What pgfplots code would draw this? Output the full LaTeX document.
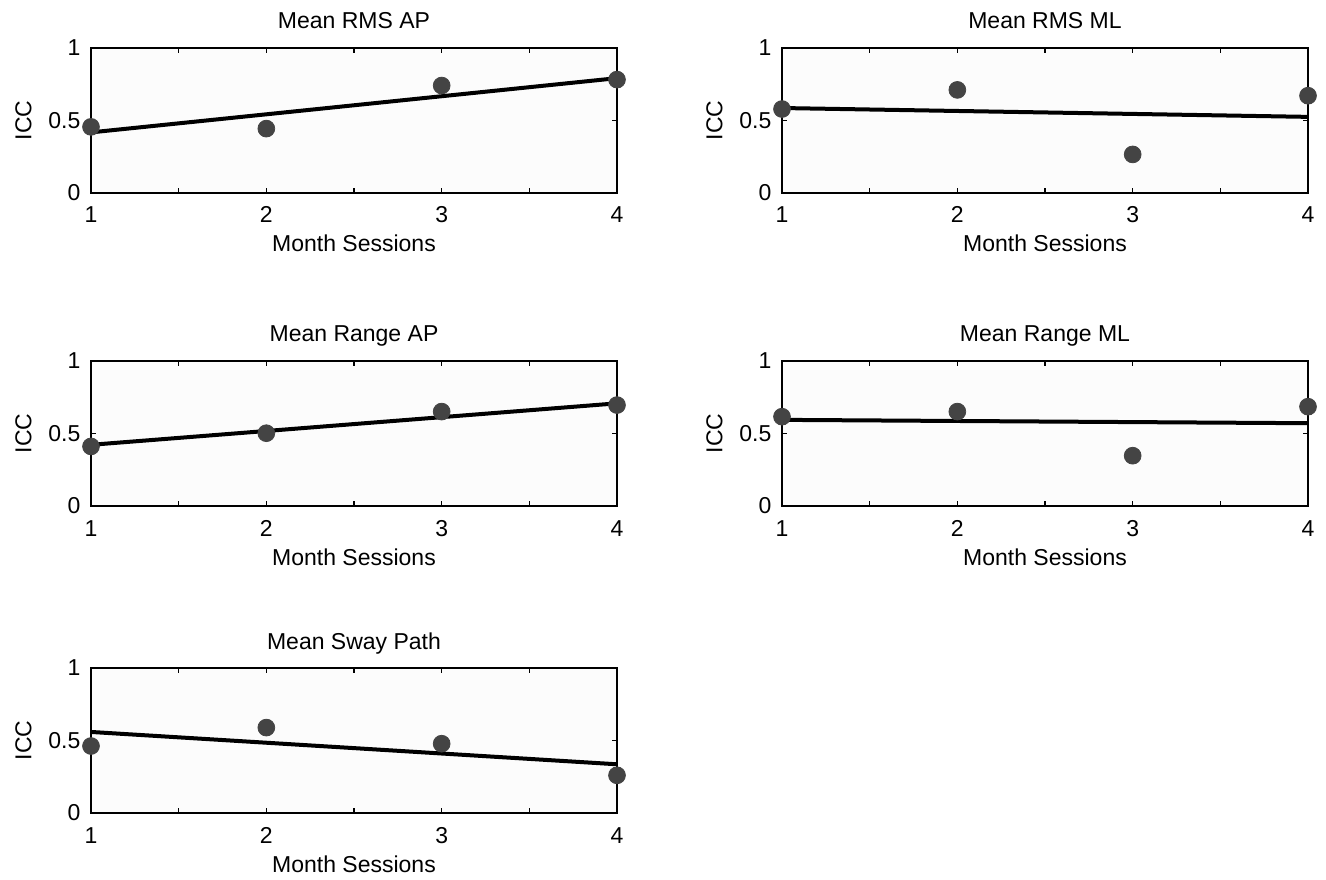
\documentclass[border=0pt]{standalone}
\usepackage{pgfplots}
\pgfplotsset{compat=1.18}
\usepackage{fontspec}
\setmainfont{Liberation Sans}
\definecolor{markgray}{RGB}{68,68,68}
\definecolor{bggray}{RGB}{252,252,252}

\pgfplotsset{
  iccaxis/.style={
    width=263pt, height=72.5pt, scale only axis,
    xmin=1, xmax=4, ymin=0, ymax=1,
    xtick={1,2,3,4}, minor xtick={1.5,2.5,3.5},
    ytick={0,0.5,1}, yticklabels={0,0.5,1},
    major tick length=2.5pt, minor tick length=2.5pt,
    tick align=inside,
    axis line style={line width=0.75pt},
    every tick/.style={black, line width=0.75pt},
    every minor tick/.style={black, line width=0.75pt},
    axis background/.style={fill=bggray},
    /pgf/number format/assume math mode=true,
    tick label style={font=\fontsize{11.5}{13}\selectfont},
    xticklabel style={anchor=base, yshift=-15pt},
    yticklabel style={anchor=east, xshift=-1.8pt},
    label style={font=\fontsize{11.5}{13}\selectfont},
    xlabel={Month Sessions}, ylabel={ICC},
    xlabel style={at={(axis description cs:0.5,0)}, anchor=base, yshift=-29.5pt},
    ylabel style={at={(axis description cs:0,0.5)}, anchor=center, yshift=33.75pt},
    title style={font=\fontsize{11.5}{13}\selectfont, at={(axis description cs:0.5,1)}, anchor=base, yshift=3.5pt},
    clip=false,
  },
  dots/.style={only marks, mark=*, mark size=4.2pt, color=markgray, mark options={draw=markgray, fill=markgray}},
  fit/.style={black, line width=2pt, no marks},
}

\begin{document}
\begin{tikzpicture}
\useasboundingbox (0,0) rectangle (663pt,439.5pt);

\begin{axis}[iccaxis, at={(45.5pt,343pt)}, anchor=south west, title={Mean RMS AP}]
\addplot[dots] coordinates {(1,0.456) (2,0.444) (3,0.741) (4,0.782)};
\addplot[fit] coordinates {(1,0.418) (4,0.792)};
\end{axis}

\begin{axis}[iccaxis, at={(391pt,343pt)}, anchor=south west, title={Mean RMS ML}]
\addplot[dots] coordinates {(1,0.579) (2,0.711) (3,0.266) (4,0.671)};
\addplot[fit] coordinates {(1,0.586) (4,0.525)};
\end{axis}

\begin{axis}[iccaxis, at={(45.5pt,186.5pt)}, anchor=south west, title={Mean Range AP}]
\addplot[dots] coordinates {(1,0.411) (2,0.502) (3,0.651) (4,0.696)};
\addplot[fit] coordinates {(1,0.422) (4,0.708)};
\end{axis}

\begin{axis}[iccaxis, at={(391pt,186.5pt)}, anchor=south west, title={Mean Range ML}]
\addplot[dots] coordinates {(1,0.616) (2,0.651) (3,0.347) (4,0.685)};
\addplot[fit] coordinates {(1,0.594) (4,0.571)};
\end{axis}

\begin{axis}[iccaxis, at={(45.5pt,33pt)}, anchor=south west, title={Mean Sway Path}]
\addplot[dots] coordinates {(1,0.462) (2,0.589) (3,0.478) (4,0.260)};
\addplot[fit] coordinates {(1,0.559) (4,0.336)};
\end{axis}
\end{tikzpicture}
\end{document}
